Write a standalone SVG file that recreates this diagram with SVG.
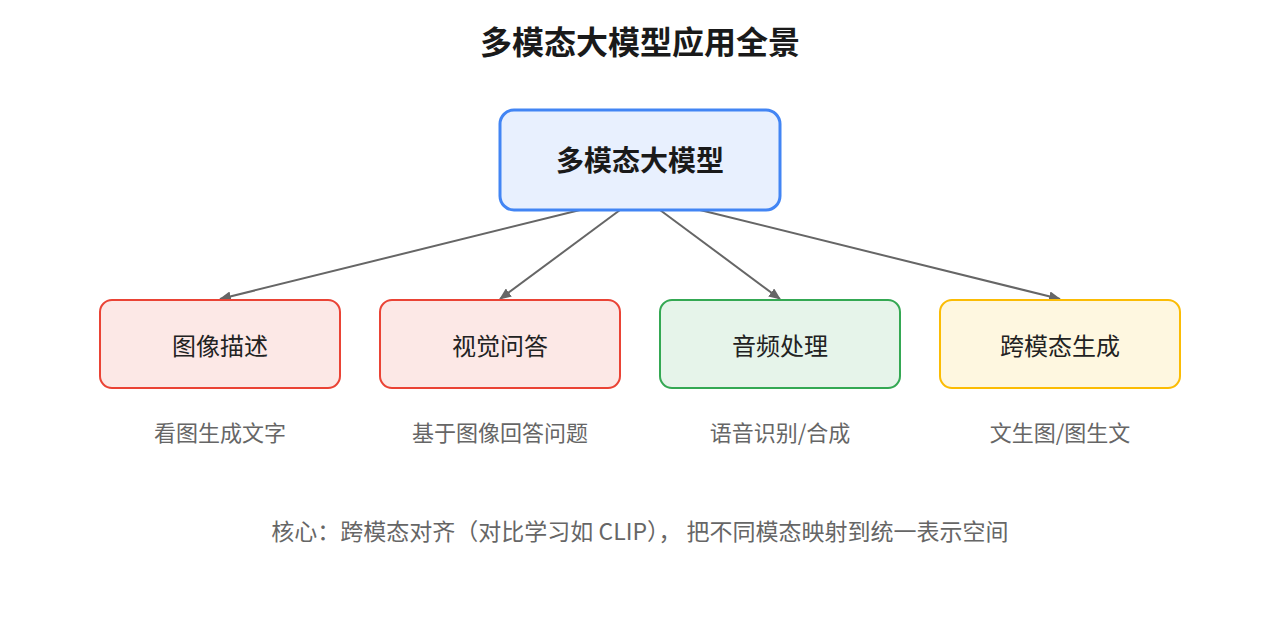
<svg xmlns="http://www.w3.org/2000/svg" width="1280" height="640" viewBox="0 0 1280 640">
<style>
text{font-family:"Noto Sans CJK SC","Noto Sans",sans-serif;text-anchor:middle;dominant-baseline:central}
.t{font-size:32px;font-weight:bold;fill:#1a1a1a}
.c{font-size:28px;font-weight:bold;fill:#1a1a1a}
.n{font-size:24px;fill:#222}
.s{font-size:22px;fill:#666}
.f{font-size:23px;fill:#666}
.e{stroke:#666;stroke-width:2;fill:none;marker-end:url(#a)}
</style>
<defs><marker id="a" markerWidth="12" markerHeight="10" refX="11" refY="5" orient="auto" markerUnits="userSpaceOnUse"><path d="M0,0 L12,5 L0,10 z" fill="#666"/></marker></defs>
<rect width="1280" height="640" fill="#fff"/>
<text class="t" x="640" y="40">多模态大模型应用全景</text>
<g id="connectors">
<line class="e" x1="580" y1="210" x2="220" y2="299"/>
<line class="e" x1="620" y1="210" x2="500" y2="299"/>
<line class="e" x1="660" y1="210" x2="780" y2="299"/>
<line class="e" x1="700" y1="210" x2="1060" y2="299"/>
</g>
<g id="center"><rect x="500" y="110" width="280" height="100" rx="14" fill="#e8f0fe" stroke="#4285f4" stroke-width="3"/><text class="c" x="640" y="159">多模态大模型</text></g>
<g id="n1"><rect x="100" y="300" width="240" height="88" rx="12" fill="#fce8e6" stroke="#ea4335" stroke-width="2"/><text class="n" x="220" y="344">图像描述</text></g>
<g id="n2"><rect x="380" y="300" width="240" height="88" rx="12" fill="#fce8e6" stroke="#ea4335" stroke-width="2"/><text class="n" x="500" y="344">视觉问答</text></g>
<g id="n3"><rect x="660" y="300" width="240" height="88" rx="12" fill="#e6f4ea" stroke="#34a853" stroke-width="2"/><text class="n" x="780" y="344">音频处理</text></g>
<g id="n4"><rect x="940" y="300" width="240" height="88" rx="12" fill="#fef7e0" stroke="#fbbc04" stroke-width="2"/><text class="n" x="1060" y="344">跨模态生成</text></g>
<text class="s" x="220" y="431">看图生成文字</text>
<text class="s" x="500" y="431">基于图像回答问题</text>
<text class="s" x="780" y="431">语音识别/合成</text>
<text class="s" x="1060" y="431">文生图/图生文</text>
<text class="f" x="640" y="530">核心：跨模态对齐（对比学习如 CLIP）， 把不同模态映射到统一表示空间</text>
</svg>
